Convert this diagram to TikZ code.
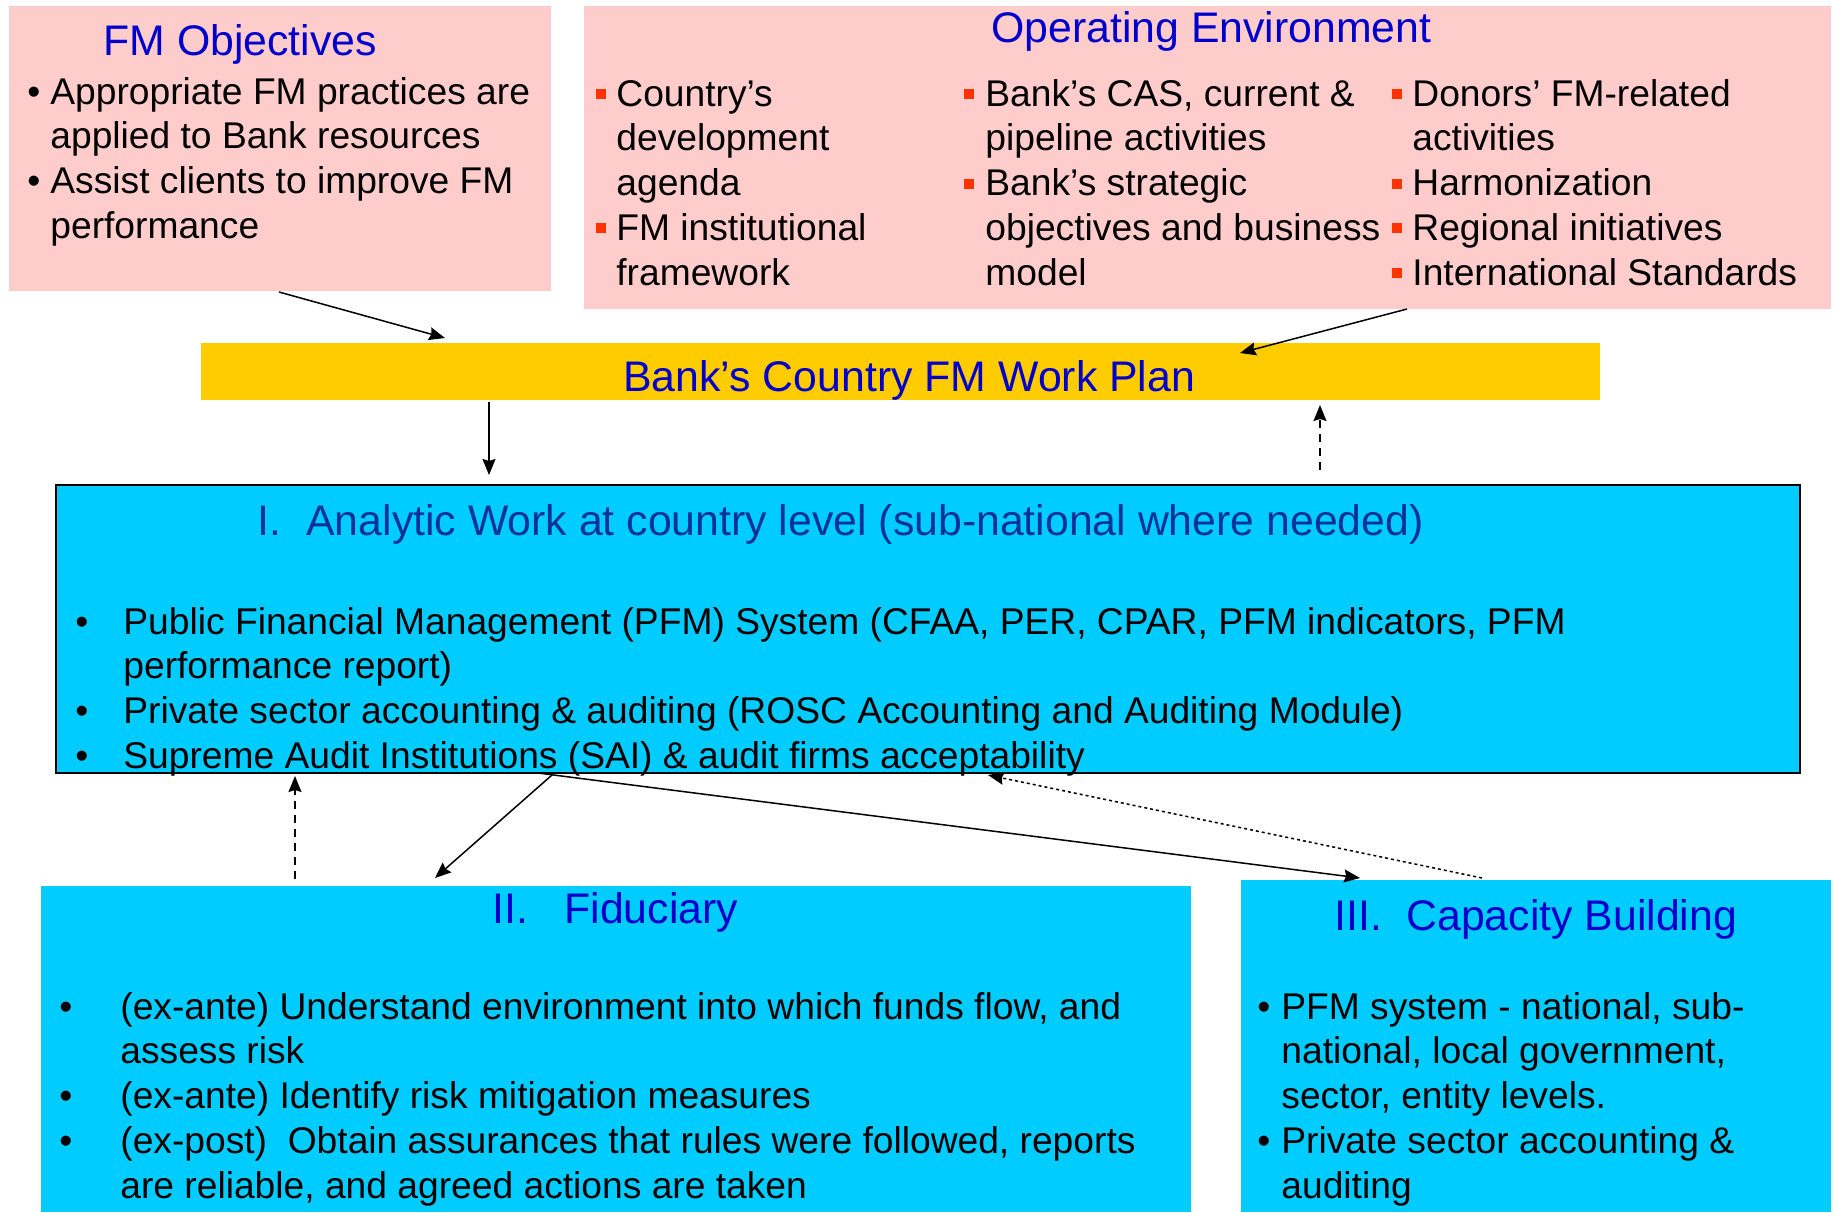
\documentclass[tikz,border=0pt]{standalone}
\usepackage{fontspec}
\setmainfont{Liberation Sans}
\usepackage{tikz}
\usetikzlibrary{arrows.meta,calc}
\usepackage{xcolor}
\definecolor{pinkbg}{RGB}{255,204,204}
\definecolor{ybar}{RGB}{255,204,0}
\definecolor{cyanbg}{RGB}{0,204,255}
\definecolor{ttlblue}{RGB}{0,0,204}
\definecolor{navy}{RGB}{0,51,153}
\definecolor{bulred}{RGB}{255,51,0}
\tikzset{
  panel/.style={inner sep=0pt,outer sep=0pt,anchor=north west},
  ttl/.style={inner sep=0pt,anchor=base west,text=ttlblue,font=\fontsize{21.4}{25}\selectfont},
  body/.style={inner sep=0pt,anchor=base west,font=\fontsize{18.6}{22.4}\selectfont},
  arr/.style={-{Stealth[length=8pt,width=6.5pt,inset=1pt]},line width=0.75pt},
  fb/.style={arr,dash pattern=on 4pt off 3pt},
  fbfine/.style={arr,dash pattern=on 1.5pt off 1.5pt},
}
\newcommand{\rsq}{\textcolor{bulred}{\rule[3.5pt]{5pt}{5pt}}}
\newcommand{\bul}{\textbullet}

\begin{document}
\begin{tikzpicture}[x=0.5pt,y=-0.5pt]
\useasboundingbox (0,0) rectangle (1833,1212);
% boxes
\node[panel,fill=pinkbg,minimum width=271pt,minimum height=142.5pt] (objv) at (9,6) {};
\node[panel,fill=pinkbg,minimum width=623.5pt,minimum height=151.5pt] (envt) at (584,6) {};
\node[panel,fill=ybar,minimum width=699.5pt,minimum height=28.5pt] (plan) at (201,343) {};
\node[panel,fill=cyanbg,draw=black,line width=1.25pt,minimum width=872pt,minimum height=144pt] (anal) at (56,485) {};
\node[panel,fill=cyanbg,minimum width=575pt,minimum height=163pt] (fidu) at (41,886) {};
\node[panel,fill=cyanbg,minimum width=295pt,minimum height=166pt] (capb) at (1241,880) {};

% objectives
\node[ttl] (objvT) at (103,55) {FM Objectives};
\node[body] (objvB) at (27,104) {\begin{tabular}[t]{@{}p{11.5pt}@{}l@{}}
  \bul & Appropriate FM practices are\\
       & applied to Bank resources\\
  \bul & Assist clients to improve FM\\
       & performance
  \end{tabular}};

% operating environment, three columns
\node[ttl] (envtT) at (991,42) {Operating Environment};
\node[body] (envtA) at (596,106) {\begin{tabular}[t]{@{}p{10pt}@{}l@{}}
  \rsq & Country’s\\
       & development\\
       & agenda\\
  \rsq & FM institutional\\
       & framework
  \end{tabular}};
\node[body] (envtB) at (964,106) {\begin{tabular}[t]{@{}p{10.5pt}@{}l@{}}
  \rsq & Bank’s CAS, current \&\\
       & pipeline activities\\
  \rsq & Bank’s strategic\\
       & objectives and business\\
       & model
  \end{tabular}};
\node[body] (envtC) at (1392,106) {\begin{tabular}[t]{@{}p{10pt}@{}l@{}}
  \rsq & Donors’ FM-related\\
       & activities\\
  \rsq & Harmonization\\
  \rsq & Regional initiatives\\
  \rsq & International Standards
  \end{tabular}};

% work plan
\node[ttl] (planT) at (623,391) {Bank’s Country FM Work Plan};

% analytic work
\node[ttl,text=navy] (analT) at (257,535)
  {\makebox[24.5pt][l]{I.}Analytic Work at country level (sub-national where needed)};
\node[body] (analB) at (75,634) {\begin{tabular}[t]{@{}p{24pt}@{}l@{}}
  \bul & Public Financial Management (PFM) System (CFAA, PER, CPAR, PFM indicators, PFM\\
       & performance report)\\
  \bul & Private sector accounting \& auditing (ROSC Accounting and Auditing Module)\\
  \bul & Supreme Audit Institutions (SAI) \& audit firms acceptability
  \end{tabular}};

% fiduciary
\node[ttl] (fiduT) at (492,923) {\makebox[36pt][l]{II.}Fiduciary};
\node[body] (fiduB) at (59,1019) {\begin{tabular}[t]{@{}p{30.5pt}@{}l@{}}
  \bul & (ex-ante) Understand environment into which funds flow, and\\
       & assess risk\\
  \bul & (ex-ante) Identify risk mitigation measures\\
  \bul & (ex-post)\ \ Obtain assurances that rules were followed, reports\\
       & are reliable, and agreed actions are taken
  \end{tabular}};

% capacity building
\node[ttl] (capbT) at (1334,930) {\makebox[36pt][l]{III.}Capacity Building};
\node[body] (capbB) at (1257,1019) {\begin{tabular}[t]{@{}p{12pt}@{}l@{}}
  \bul & PFM system - national, sub-\\
       & national, local government,\\
       & sector, entity levels.\\
  \bul & Private sector accounting \&\\
       & auditing
  \end{tabular}};

% edges
\draw[arr] ($(objv.south west)+(270,1)$) -- ($(plan.north west)+(244,-5)$);
\draw[arr] ($(envt.south west)+(823,0)$) -- ($(plan.north west)+(1039,10)$);
\draw[arr] ($(plan.south west)+(288,2)$) -- ($(anal.north west)+(433,-10)$);
\draw[fb] ($(anal.north west)+(1264,-15)$) -- ($(plan.south west)+(1119,5)$);
\draw[fb] ($(fidu.north west)+(254,-7)$) -- ($(anal.south west)+(239,3)$);
\draw[arr] ($(anal.south west)+(496,2)$) -- ($(fidu.north west)+(394,-8)$);
\draw[arr] ($(anal.south west)+(482,0)$) -- ($(capb.north west)+(119,-2)$);
\draw[fbfine] ($(capb.north west)+(241,-2)$) -- ($(anal.south west)+(932,2)$);
\end{tikzpicture}
\end{document}
